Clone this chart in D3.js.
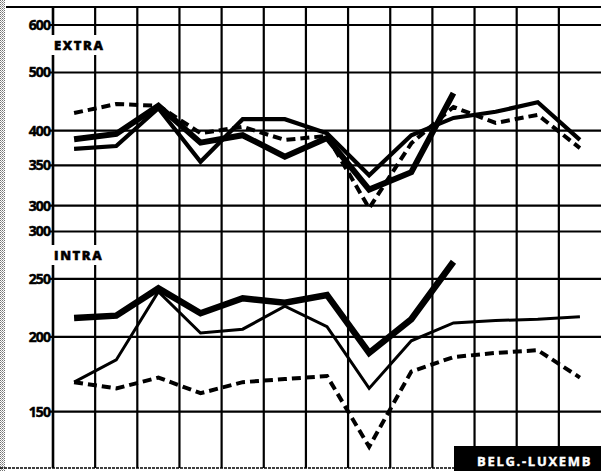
<!DOCTYPE html>
<html>
<head>
<meta charset="utf-8">
<script src="https://cdn.jsdelivr.net/npm/d3@7"></script>
<style>
  html, body { margin: 0; padding: 0; background: #fff; }
  svg { display: block; }
  text { font-family: "Open Sans", Lato, "DejaVu Sans", sans-serif; font-weight: 700; fill: #000; }
</style>
</head>
<body>
<svg id="chart" width="601" height="471"></svg>
<script>
// Thirteen consecutive periods along the horizontal axis
const periods = d3.range(13);

// Tick values of the two log-scaled panels
const extraTicks = [600, 500, 400, 350, 300];
const intraTicks = [300, 250, 200, 150];

// EXTRA panel series
const extraHeavy  = [387, 395, 440, 382, 393, 362, 389, 319, 341, 462];
const extraMedium = [373, 377, 436, 355, 418, 418, 396, 337, 393, 420, 430, 446, 386];
const extraDashed = [428, 443, 440, 396, 406, 386, 392, 297, 381, 438, 412, 425, 374];

// INTRA panel series
const intraHeavy  = [215, 217, 241, 219, 232, 228, 235, 188, 214, 267];
const intraThin   = [168, 183, 238, 203, 206, 225, 208, 164, 197, 211, 213, 214, 216];
const intraDashed = [168, 164, 171, 161, 168, 170, 172, 131, 175, 185, 188, 190, 171];

const panelLabels = ["EXTRA", "INTRA"];
const countryLabel = "BELG.-LUXEMB";

const W = 601, H = 471;
const plotLeft = 53, plotTop = 7, plotBottom = 468;
const labelFont = "'Open Sans', Lato, 'DejaVu Sans', sans-serif";

const svg = d3.select("#chart");

// scanned-page edge on the left
const defs = svg.append("defs");
const pat = defs.append("pattern").attr("id", "grain")
  .attr("width", 2).attr("height", 2).attr("patternUnits", "userSpaceOnUse");
pat.append("rect").attr("width", 1).attr("height", 1).attr("fill", "#000");
pat.append("rect").attr("x", 1).attr("y", 1).attr("width", 1).attr("height", 1).attr("fill", "#555");
svg.append("rect").attr("x", 0).attr("y", 0).attr("width", 5).attr("height", H).attr("fill", "url(#grain)").attr("opacity", 0.55);

const x = d3.scaleBand().domain(periods).range([plotLeft, W]).paddingInner(0).paddingOuter(0);
const cx = i => x(i) + x.bandwidth() / 2;

// same log factor (600 px per decade) for both panels
const yExtra = d3.scaleLog().domain([300, 600]).range([205.6, 25]);
const yIntra = d3.scaleLog().domain([150, 300]).range([411.6, 231.5]);

const grid = svg.append("g").attr("stroke", "#000").attr("stroke-width", 2.2);

// top rule and bottom rule
grid.append("line").attr("x1", 6).attr("x2", W).attr("y1", plotTop).attr("y2", plotTop);
grid.append("line").attr("x1", 0).attr("x2", 455).attr("y1", plotBottom).attr("y2", plotBottom)
  .attr("stroke-width", 1.6).attr("stroke-dasharray", "3,1");

// vertical grid lines at the period boundaries
grid.selectAll("line.v").data(periods).join("line").attr("class", "v")
  .attr("x1", d => x(d)).attr("x2", d => x(d))
  .attr("y1", plotTop).attr("y2", plotBottom)
  .attr("stroke-width", d => d === 0 ? 2.6 : 2.2);

// horizontal grid lines and value labels for each panel
function panelAxis(scale, ticks) {
  grid.append("g").selectAll("line").data(ticks).join("line")
    .attr("x1", plotLeft - 3).attr("x2", W)
    .attr("y1", d => scale(d)).attr("y2", d => scale(d));
  const ax = svg.append("g").attr("transform", `translate(${plotLeft},0)`)
    .call(d3.axisLeft(scale).tickValues(ticks).tickFormat(d3.format("d")).tickSize(3).tickPadding(0));
  ax.select(".domain").remove();
  ax.selectAll(".tick line").remove();
  ax.selectAll("text")
    .attr("x", -3)
    .style("font-family", labelFont)
    .style("font-weight", 700)
    .style("font-size", "14px")
    .style("letter-spacing", "-0.9px")
    .style("fill", "#000")
    .style("stroke", "#000")
    .style("stroke-width", "0.5px");
}
panelAxis(yExtra, extraTicks);
panelAxis(yIntra, intraTicks);

// panel titles on a white ground
const titleY = [45, 255];
panelLabels.forEach((t, k) => {
  svg.append("rect").attr("x", plotLeft - 2).attr("y", titleY[k] - 10).attr("width", 57).attr("height", 20).attr("fill", "#fff");
  svg.append("text").attr("x", plotLeft + 1).attr("y", titleY[k]).attr("dy", "0.36em")
    .style("font-family", labelFont)
    .style("font-size", "13px").style("font-weight", 800).style("letter-spacing", "1.6px")
    .style("stroke", "#000").style("stroke-width", "0.5px")
    .text(t);
});

function drawLine(values, scale, width, dash) {
  const line = d3.line().x((d, i) => cx(i)).y(d => scale(d));
  svg.append("path").datum(values)
    .attr("d", line)
    .attr("fill", "none")
    .attr("stroke", "#000")
    .attr("stroke-width", width)
    .attr("stroke-linejoin", "miter")
    .attr("stroke-miterlimit", 3)
    .attr("stroke-dasharray", dash || null);
}

drawLine(extraDashed, yExtra, 4, "9,5");
drawLine(extraMedium, yExtra, 4.2);
drawLine(extraHeavy, yExtra, 6);

drawLine(intraDashed, yIntra, 4, "9,5");
drawLine(intraThin, yIntra, 3);
drawLine(intraHeavy, yIntra, 6.5);

// country tag, bottom right
svg.append("rect").attr("x", 454).attr("y", 446).attr("width", W - 454).attr("height", H - 446).attr("fill", "#000");
svg.append("text").attr("x", 477).attr("y", 466)
  .style("font-family", labelFont)
  .style("font-size", "13px").style("font-weight", 700).style("letter-spacing", "1.7px")
  .style("fill", "#fff").style("stroke", "#fff").style("stroke-width", "0.4px")
  .text(countryLabel);
</script>
</body>
</html>
